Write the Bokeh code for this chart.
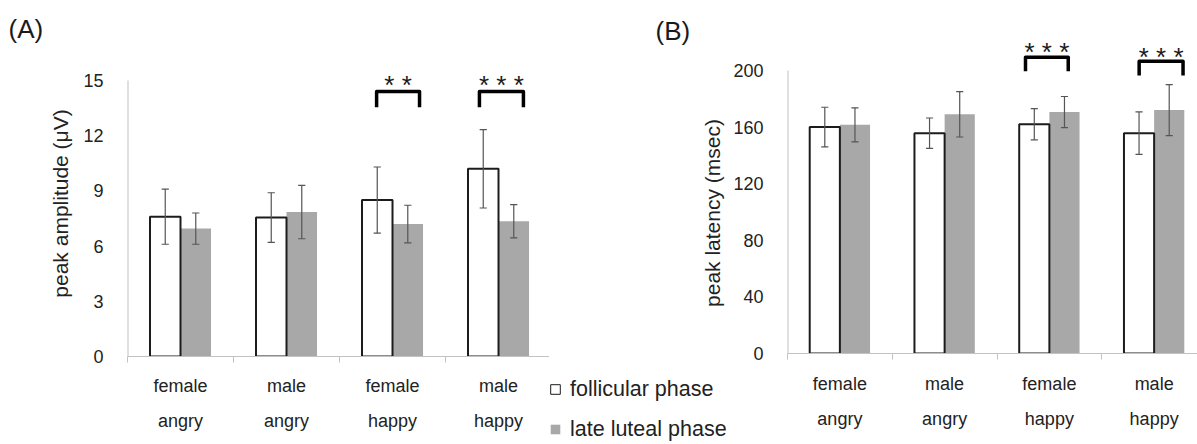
import math
from bokeh.plotting import figure
from bokeh.models import (Range1d, FixedTicker, LinearAxis, Legend,
                          LegendItem, ColumnDataSource)
from bokeh.layouts import row
from bokeh.embed import file_html
from bokeh.resources import INLINE
from bokeh.core.properties import value

# ---------------- data ----------------
label_line1 = ["female", "male", "female", "male"]
label_line2 = ["angry", "angry", "happy", "happy"]
series_names = ["follicular phase", "late luteal phase"]

amp_follicular = [7.6, 7.55, 8.5, 10.2]
amp_follicular_err = [1.5, 1.35, 1.8, 2.13]
amp_luteal = [6.95, 7.85, 7.2, 7.35]
amp_luteal_err = [0.85, 1.45, 1.02, 0.9]

lat_follicular = [160.0, 155.7, 162.0, 155.7]
lat_follicular_err = [14.0, 10.7, 11.0, 15.0]
lat_luteal = [161.6, 169.0, 170.6, 172.0]
lat_luteal_err = [12.0, 16.0, 11.0, 18.0]

amp_ticks = [0, 3, 6, 9, 12, 15]
lat_ticks = [0, 40, 80, 120, 160, 200]

amp_sig_cats = [2, 3]
amp_sig_marks = ["* *", "* * *"]
lat_sig_cats = [2, 3]
lat_sig_marks = ["* * *", "* * *"]

# ---------------- style ----------------
FONT = "Liberation Sans"
TXT = "#222222"
AXIS_GRAY = "#c2c2c2"
GRAY_BAR = "#a8a8a8"
EDGE = "#1c1c1c"
ERR = "#555555"
BAR_W = 0.288
CAP = 0.034
N = len(label_line1)
CENTERS = [i + 0.5 for i in range(N)]


def no_align(fig):
    try:
        fig.frame_align = False
    except Exception:
        pass


def style_label_axis(ax, labels, standoff):
    ax.ticker = FixedTicker(ticks=CENTERS, minor_ticks=[])
    ax.major_label_overrides = {c: t for c, t in zip(CENTERS, labels)}
    ax.axis_line_color = None
    ax.major_tick_line_color = None
    ax.minor_tick_line_color = None
    ax.major_tick_out = 0
    ax.major_tick_in = 0
    ax.major_label_standoff = standoff
    ax.major_label_text_font = FONT
    ax.major_label_text_font_size = "18px"
    ax.major_label_text_color = TXT


def build(vf, ef, vl, el, ticks, x_end, y_end, y_label, width, height,
          left_b, top_b, bottom_b, tag, tag_offset, tag_standoff, sig_cats,
          sig_marks, br_left, br_right, br_top, br_bot, star_y, std1):
    p = figure(width=width, height=height, x_range=Range1d(0, x_end),
               y_range=Range1d(0, y_end), output_backend="svg",
               toolbar_location=None, min_border_left=left_b,
               min_border_right=0, min_border_top=top_b,
               min_border_bottom=bottom_b)
    no_align(p)
    p.xgrid.visible = False
    p.ygrid.visible = False
    p.outline_line_color = None

    xf = [c - BAR_W / 2 for c in CENTERS]
    xl = [c + BAR_W / 2 for c in CENTERS]
    src_f = ColumnDataSource(dict(x=xf, top=vf,
                                  lo=[v - e for v, e in zip(vf, ef)],
                                  hi=[v + e for v, e in zip(vf, ef)],
                                  c0=[x - CAP for x in xf], c1=[x + CAP for x in xf]))
    src_l = ColumnDataSource(dict(x=xl, top=vl,
                                  lo=[v - e for v, e in zip(vl, el)],
                                  hi=[v + e for v, e in zip(vl, el)],
                                  c0=[x - CAP for x in xl], c1=[x + CAP for x in xl]))

    p.vbar(x="x", top="top", width=BAR_W, bottom=0, source=src_l,
           fill_color=GRAY_BAR, line_color=None)
    p.vbar(x="x", top="top", width=BAR_W, bottom=0, source=src_f,
           fill_color="white", line_color=EDGE, line_width=2)
    for s in (src_f, src_l):
        p.segment(x0="x", y0="lo", x1="x", y1="hi", source=s,
                  line_color=ERR, line_width=1.2)
        p.segment(x0="c0", y0="lo", x1="c1", y1="lo", source=s,
                  line_color=ERR, line_width=1.2)
        p.segment(x0="c0", y0="hi", x1="c1", y1="hi", source=s,
                  line_color=ERR, line_width=1.2)

    # y axis line only up to the top tick
    p.segment(x0=[0], y0=[ticks[0]], x1=[0], y1=[ticks[-1]],
              line_color=AXIS_GRAY, line_width=2)

    # significance brackets and stars
    bx, by, sx = [], [], []
    for k, c in enumerate(sig_cats):
        l = c + 0.5 + br_left[k]
        r = c + 0.5 + br_right[k]
        bx.append([l, l, r, r])
        by.append([br_bot[k], br_top[k], br_top[k], br_bot[k]])
        sx.append((l + r) / 2)
    p.multi_line(xs=bx, ys=by, line_color="black", line_width=3.5,
                 line_join="round")
    p.text(x=sx, y=star_y, text=sig_marks, text_font=value(FONT),
           text_font_size="26px", text_align="center",
           text_baseline="alphabetic", text_color="#1a1a1a")

    # y axis
    ya = p.yaxis[0]
    ya.ticker = FixedTicker(ticks=ticks, minor_ticks=[])
    ya.axis_line_color = None
    ya.major_tick_line_color = None
    ya.minor_tick_line_color = None
    ya.major_tick_out = 0
    ya.major_tick_in = 0
    ya.major_label_standoff = 24
    ya.major_label_text_font = FONT
    ya.major_label_text_font_size = "18px"
    ya.major_label_text_color = TXT
    if y_label:
        ya.axis_label = y_label
        ya.axis_label_text_font = FONT
        ya.axis_label_text_font_size = "21px"
        ya.axis_label_text_font_style = "normal"
        ya.axis_label_text_color = TXT
        ya.axis_label_standoff = 8

    # x axis: separator ticks + first label line, second line below
    xa = p.xaxis[0]
    xa.axis_line_color = AXIS_GRAY
    xa.major_tick_line_color = None
    xa.major_tick_out = 0
    xa.major_tick_in = 0
    xa.minor_tick_line_color = AXIS_GRAY
    xa.minor_tick_out = 6
    xa.minor_tick_in = 0
    xa.ticker = FixedTicker(ticks=CENTERS, minor_ticks=list(range(N + 1)))
    xa.major_label_overrides = {c: t for c, t in zip(CENTERS, label_line1)}
    xa.major_label_standoff = std1
    xa.major_label_text_font = FONT
    xa.major_label_text_font_size = "18px"
    xa.major_label_text_color = TXT
    xb = LinearAxis()
    style_label_axis(xb, label_line2, 12)
    p.add_layout(xb, "below")

    if tag:
        p.title.text = tag
        p.title.text_font = FONT
        p.title.text_font_size = "26px"
        p.title.text_font_style = "normal"
        p.title.text_color = "#1a1a1a"
        p.title.align = "left"
        p.title.offset = tag_offset
        p.title.standoff = tag_standoff
    return p


# Panel A: canvas x 0..549, frame x 127..549 (106 px / category), y 0 at 356
pa = build(amp_follicular, amp_follicular_err, amp_luteal, amp_luteal_err,
           amp_ticks, 3.981, 16.63, "peak amplitude (μV)",
           width=549, height=444, left_b=127, top_b=50, bottom_b=88,
           tag="(A)", tag_offset=-119, tag_standoff=14,
           sig_cats=amp_sig_cats, sig_marks=amp_sig_marks,
           br_left=[-0.15, -0.18], br_right=[0.255, 0.235],
           br_top=[14.4, 14.4], br_bot=[13.55, 13.55], star_y=[14.74, 14.74],
           std1=13)

# Panel B: canvas x 730..1197, frame x 786..1197 (105 px / category), y 0 at 353
pb = build(lat_follicular, lat_follicular_err, lat_luteal, lat_luteal_err,
           lat_ticks, 3.914, 224.0, None,
           width=467, height=444, left_b=56, top_b=36, bottom_b=91,
           tag=None, tag_offset=0, tag_standoff=0,
           sig_cats=lat_sig_cats, sig_marks=lat_sig_marks,
           br_left=[-0.228, -0.143], br_right=[0.18, 0.276],
           br_top=[209.4, 206.5], br_bot=[199.5, 196.5], star_y=[212.7, 209.2],
           std1=14)

# Middle strip (canvas x 549..730): panel B tag, panel B y-axis title, legend
pl = figure(width=181, height=444, x_range=Range1d(0, 181), y_range=Range1d(0, 444),
            x_axis_type=None, y_axis_type=None,
            output_backend="svg", toolbar_location=None,
            min_border_left=0, min_border_right=0, min_border_top=0,
            min_border_bottom=0)
no_align(pl)
pl.xgrid.visible = False
pl.ygrid.visible = False
pl.outline_line_color = None
pl.text(x=[106], y=[413.5], text=["(B)"], text_font=value(FONT),
        text_font_size="26px", text_align="left", text_baseline="alphabetic",
        text_color="#1a1a1a")
pl.text(x=[163], y=[231.5], text=["peak latency (msec)"], text_font=value(FONT),
        text_font_size="21px", text_align="center", text_baseline="middle",
        angle=math.pi / 2, text_color=TXT)
# legend proxies (kept outside the visible range of this strip)
rf = pl.vbar(x=[-1000], top=[0], width=0.1,
             fill_color="white", line_color=EDGE, line_width=1)
rl = pl.vbar(x=[-1000], top=[0], width=0.1,
             fill_color=GRAY_BAR, line_color=None)
leg = Legend(items=[LegendItem(label=series_names[0], renderers=[rf]),
                    LegendItem(label=series_names[1], renderers=[rl])],
             location=(0, 2), orientation="vertical",
             border_line_color=None, background_fill_alpha=0,
             padding=0, margin=0, spacing=14, glyph_width=12, glyph_height=12,
             label_standoff=9, label_height=26,
             label_text_font=FONT, label_text_font_size="21.5px",
             label_text_color=TXT)
pl.add_layout(leg)

layout = row(pa, pl, pb)
open("out.html", "w").write(file_html(layout, INLINE))
